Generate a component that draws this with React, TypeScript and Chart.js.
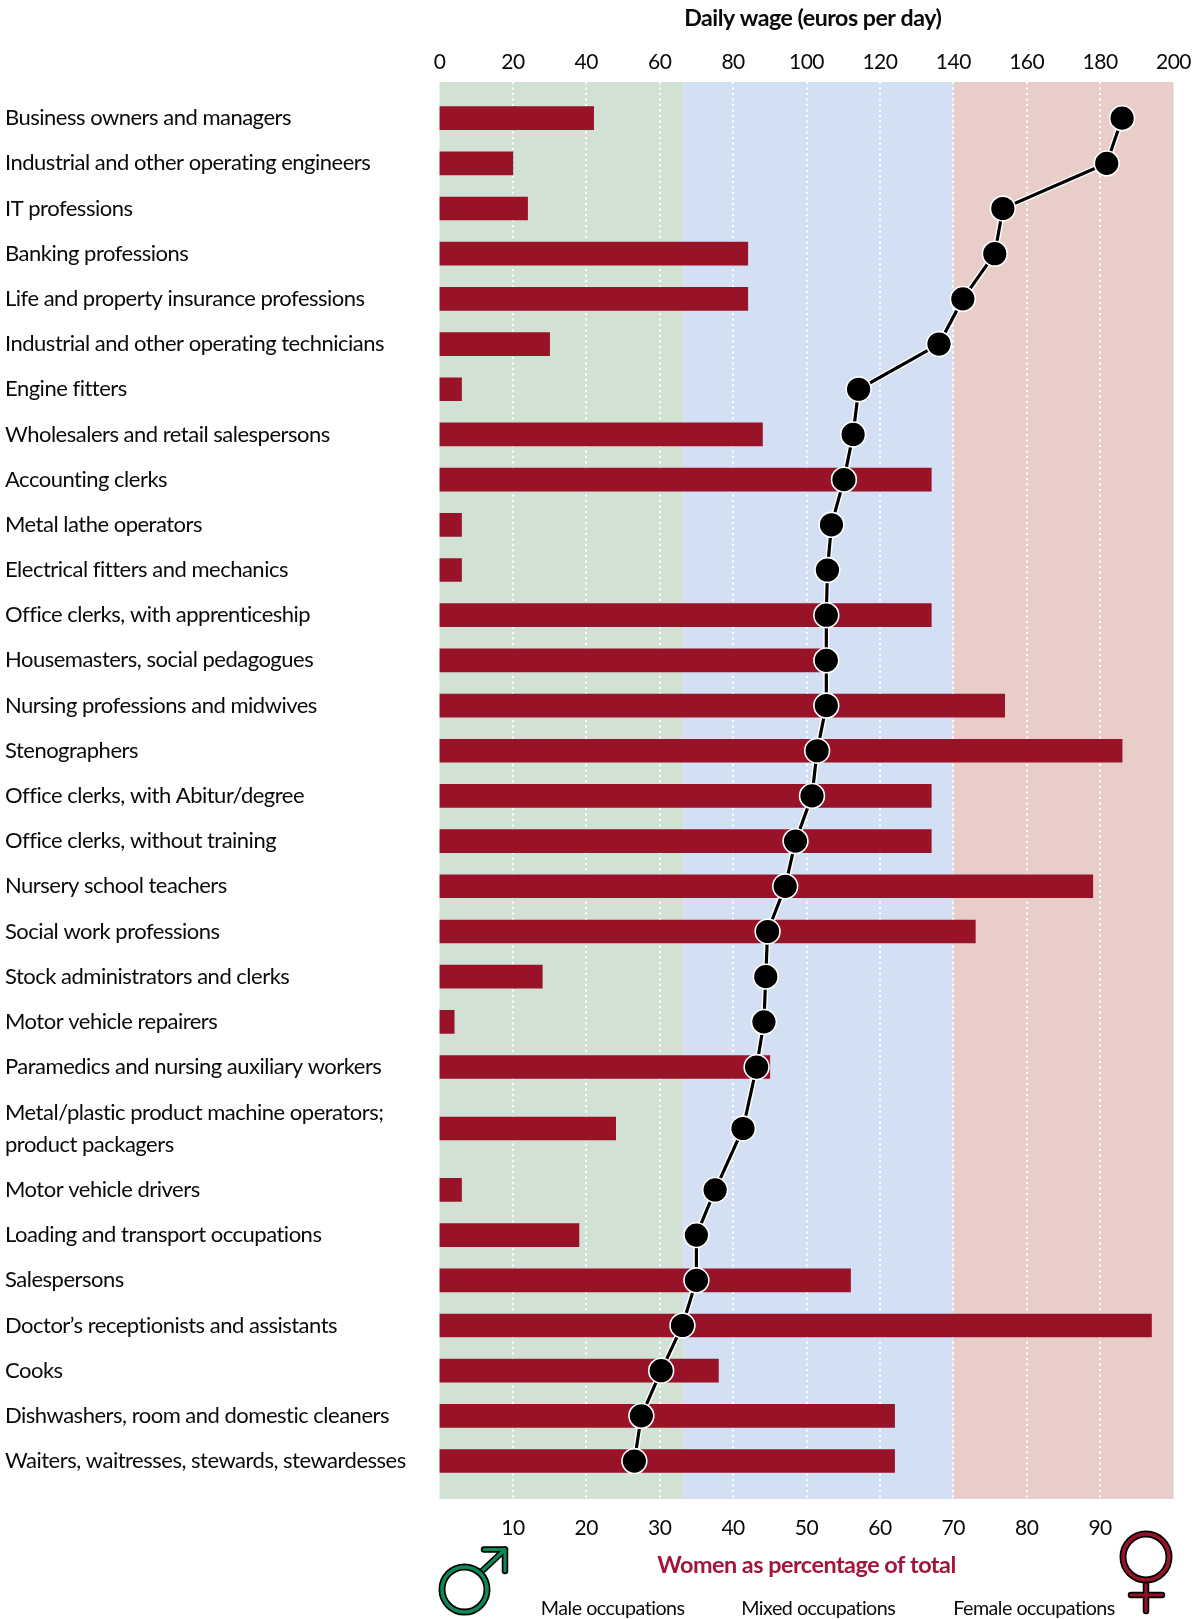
import React, { useEffect, useRef } from "react";
import { Chart, registerables } from "chart.js";

Chart.register(...registerables);

const categories: (string | string[])[] = [
  "Business owners and managers",
  "Industrial and other operating engineers",
  "IT professions",
  "Banking professions",
  "Life and property insurance professions",
  "Industrial and other operating technicians",
  "Engine fitters",
  "Wholesalers and retail salespersons",
  "Accounting clerks",
  "Metal lathe operators",
  "Electrical fitters and mechanics",
  "Office clerks, with apprenticeship",
  "Housemasters, social pedagogues",
  "Nursing professions and midwives",
  "Stenographers",
  "Office clerks, with Abitur/degree",
  "Office clerks, without training",
  "Nursery school teachers",
  "Social work professions",
  "Stock administrators and clerks",
  "Motor vehicle repairers",
  "Paramedics and nursing auxiliary workers",
  ["Metal/plastic product machine operators;", "product packagers"],
  "Motor vehicle drivers",
  "Loading and transport occupations",
  "Salespersons",
  "Doctor’s receptionists and assistants",
  "Cooks",
  "Dishwashers, room and domestic cleaners",
  "Waiters, waitresses, stewards, stewardesses",
];

const womenPercent = [
  21, 10, 12, 42, 42, 15, 3, 44, 67, 3, 3, 67, 53, 77, 93, 67, 67, 89, 73, 14, 2, 45, 24, 3, 19, 56, 97,
  38, 62, 62,
];

const dailyWage = [
  186, 181.8, 153.5, 151.3, 142.6, 136.1, 114.2, 112.7, 110.2, 106.8, 105.7, 105.4, 105.4, 105.4, 102.9,
  101.5, 97, 94.2, 89.4, 88.9, 88.4, 86.4, 82.7, 75.1, 70, 70, 66.2, 60.4, 55, 53.1,
];

const wageTicks = [0, 20, 40, 60, 80, 100, 120, 140, 160, 180, 200];
const percentTicks = [10, 20, 30, 40, 50, 60, 70, 80, 90];

const bands = [
  { label: "Male occupations", from: 0, to: 33.2, color: "#d1e1d3", labelAt: 23.6 },
  { label: "Mixed occupations", from: 33.2, to: 70, color: "#d3dff2", labelAt: 51.6 },
  { label: "Female occupations", from: 70, to: 100, color: "#e9cdc9", labelAt: 81 },
];

const FONT = "Lato";
const TEXT = "#0a0a0a";
const RED = "#981228";
const GREEN = "#0b8a55";

// Row centres: two-line labels take extra height.
const rowPositions: number[] = [];
{
  let p = 0;
  categories.forEach((c, i) => {
    const two = Array.isArray(c);
    if (i > 0) p += 1;
    if (two) p += 0.36;
    rowPositions.push(p);
    if (two) p += 0.36;
  });
}

const backdrop = {
  id: "backdrop",
  beforeDraw(chart: any) {
    const { ctx, chartArea, scales } = chart;
    ctx.letterSpacing = "-0.5px";
    ctx.save();
    for (const b of bands) {
      const l = scales.x2.getPixelForValue(b.from);
      const r = scales.x2.getPixelForValue(b.to);
      ctx.fillStyle = b.color;
      ctx.fillRect(l, chartArea.top, r - l, chartArea.bottom - chartArea.top);
    }
    ctx.restore();
  },
  afterDraw(chart: any) {
    const { ctx, scales } = chart;
    ctx.save();
    ctx.fillStyle = TEXT;
    ctx.textAlign = "center";
    ctx.textBaseline = "middle";
    ctx.font = `bold 23.2px ${FONT}`;
    ctx.fillText("Daily wage (euros per day)", scales.x.getPixelForValue(101.7), 18.5);
    ctx.font = `19.7px ${FONT}`;
    for (const b of bands) ctx.fillText(b.label, scales.x2.getPixelForValue(b.labelAt), 1609);

    const stroke2 = (draw: () => void, color: string, w: number) => {
      ctx.lineCap = "round";
      ctx.lineJoin = "round";
      ctx.strokeStyle = "#000";
      ctx.lineWidth = w;
      ctx.beginPath();
      draw();
      ctx.stroke();
      ctx.strokeStyle = color;
      ctx.lineWidth = w - 3.4;
      ctx.beginPath();
      draw();
      ctx.stroke();
    };
    // male symbol
    stroke2(() => {
      ctx.moveTo(481, 1572);
      ctx.lineTo(505, 1549.5);
      ctx.moveTo(484, 1549.5);
      ctx.lineTo(505, 1549.5);
      ctx.lineTo(505, 1571);
    }, GREEN, 6.5);
    stroke2(() => {
      ctx.ellipse(464.5, 1589.5, 22.5, 22.5, 0, 0, Math.PI * 2);
    }, GREEN, 7);
    // female symbol
    stroke2(() => {
      ctx.moveTo(1146, 1583);
      ctx.lineTo(1146, 1611);
      ctx.moveTo(1131, 1595);
      ctx.lineTo(1162, 1595);
    }, RED, 6.5);
    stroke2(() => {
      ctx.ellipse(1146, 1557, 23, 23, 0, 0, Math.PI * 2);
    }, RED, 7);
    ctx.restore();
  },
};

export default function App() {
  const ref = useRef<HTMLCanvasElement | null>(null);
  useEffect(() => {
    document.body.style.margin = "0";
    const points = dailyWage.map((v, i) => ({ x: v, y: rowPositions[i] }));
    const chart = new Chart(ref.current as HTMLCanvasElement, {
      type: "bar",
      data: {
        datasets: [
          {
            type: "bar",
            label: "Women as percentage of total",
            data: womenPercent.map((v, i) => ({ x: v, y: rowPositions[i] })),
            xAxisID: "x2",
            yAxisID: "y",
            backgroundColor: RED,
            barThickness: 23,
            order: 3,
          },
          {
            type: "line",
            label: "halo",
            data: points,
            xAxisID: "x",
            yAxisID: "y",
            borderColor: "#ffffff",
            borderWidth: 6,
            pointRadius: 0,
            order: 2,
          },
          {
            type: "line",
            label: "Daily wage (euros per day)",
            data: points,
            xAxisID: "x",
            yAxisID: "y",
            borderColor: "#000000",
            borderWidth: 3.2,
            pointRadius: 12.4,
            pointBorderWidth: 1.6,
            pointBorderColor: "#ffffff",
            pointBackgroundColor: "#000000",
            order: 1,
          },
        ] as any,
      },
      options: {
        indexAxis: "y",
        animation: false,
        responsive: false,
        parsing: false as any,
        layout: { padding: { left: 5, right: 18.5, top: 0, bottom: 0 } },
        plugins: { legend: { display: false }, tooltip: { enabled: false } },
        scales: {
          x: {
            type: "linear",
            position: "top",
            min: 0,
            max: 200,
            border: { display: false, dash: [2, 3.5] },
            afterBuildTicks: (s: any) => {
              s.ticks = wageTicks.map((value) => ({ value }));
            },
            afterFit: (s: any) => {
              s.paddingLeft = 0;
              s.paddingRight = 0;
              s.height = 82;
            },
            ticks: {
              color: TEXT,
              font: { family: FONT, size: 21 },
              padding: 7,
              maxRotation: 0,
              autoSkip: false,
            },
            grid: {
              drawTicks: false,
              lineWidth: 2,
              color: (c: any) => (c.tick && (c.tick.value === 0 || c.tick.value === 200) ? "rgba(0,0,0,0)" : "#ffffff"),
            },
          },
          x2: {
            type: "linear",
            position: "bottom",
            min: 0,
            max: 100,
            border: { display: false },
            title: {
              display: true,
              text: "Women as percentage of total",
              color: "#a3153a",
              font: { family: FONT, size: 23.4, weight: "bold" },
              padding: { top: 11, bottom: 40 },
            },
            afterBuildTicks: (s: any) => {
              s.ticks = percentTicks.map((value) => ({ value }));
            },
            afterFit: (s: any) => {
              s.paddingLeft = 0;
              s.paddingRight = 0;
              s.height = 120;
            },
            ticks: {
              color: TEXT,
              font: { family: FONT, size: 21 },
              padding: 17,
              maxRotation: 0,
              autoSkip: false,
            },
            grid: { display: false, drawTicks: false },
          },
          y: {
            type: "linear",
            reverse: true,
            offset: false,
            position: "left",
            min: -0.8,
            max: rowPositions[rowPositions.length - 1] + 0.84,
            border: { display: false },
            grid: { display: false, drawTicks: false },
            afterBuildTicks: (s: any) => {
              s.ticks = rowPositions.map((value) => ({ value }));
            },
            afterFit: (s: any) => {
              s.width = 434.5;
            },
            ticks: {
              color: TEXT,
              font: { family: FONT, size: 22, lineHeight: 1.45 },
              mirror: true,
              padding: -434.5,
              autoSkip: false,
              callback: (_v: any, i: number) => categories[i],
            },
          },
        },
      } as any,
      plugins: [backdrop],
    });
    return () => chart.destroy();
  }, []);
  return (
    <div style={{ width: 1192, height: 1619, background: "#fff" }}>
      <canvas ref={ref} width={1192} height={1619} style={{ display: "block" }} />
    </div>
  );
}
